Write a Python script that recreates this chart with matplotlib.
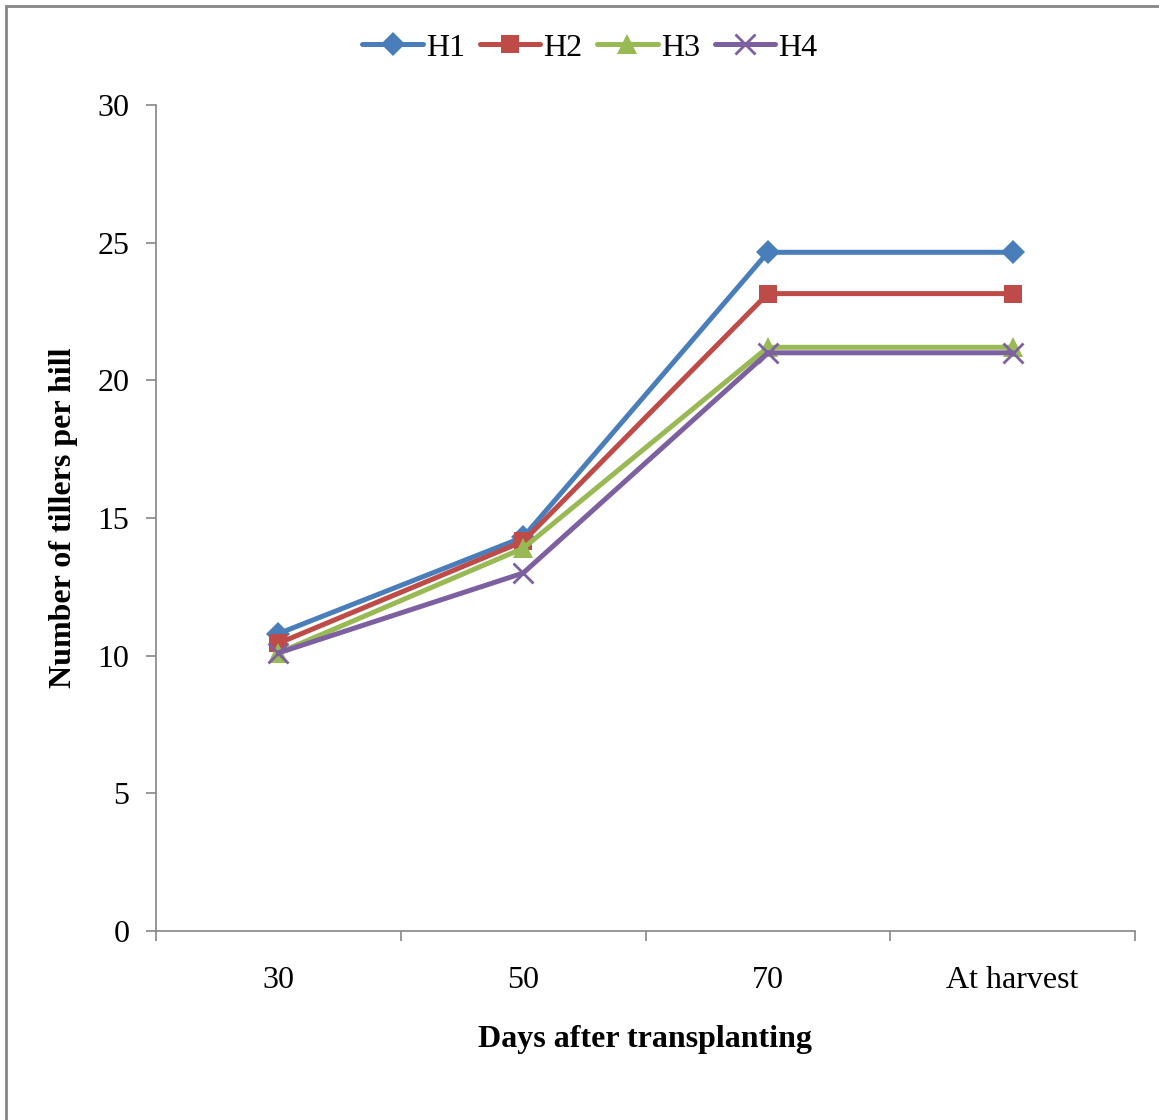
import matplotlib
matplotlib.use("Agg")
import numpy as np
import matplotlib.pyplot as plt
import matplotlib.patches as mpatches

# data
categories = ["30", "50", "70", "At harvest"]
h1 = [10.8, 14.3, 24.65, 24.65]
h2 = [10.45, 14.15, 23.15, 23.15]
h3 = [10.1, 13.9, 21.2, 21.2]
h4 = [10.1, 13.0, 21.0, 21.0]
y_ticks = [0, 5, 10, 15, 20, 25, 30]

SERIES = [
    ("H1", h1, "#4A7EBB", "D", 12),
    ("H2", h2, "#BE4B48", "s", 13),
    ("H3", h3, "#98B954", "^", 14),
    ("H4", h4, "#7D60A0", "x", 14),
]
AXIS_GRAY = "#868686"

plt.rcParams["font.family"] = ["Liberation Serif", "DejaVu Serif"]

fig = plt.figure(figsize=(11.59, 11.2), dpi=100)
ax = fig.add_axes([156 / 1159, 1 - 931 / 1120, (1135 - 156) / 1159, (931 - 105) / 1120])

x = np.arange(len(categories))
handles = []
for name, vals, color, mk, ms in SERIES:
    kw = dict(markeredgewidth=2) if mk == "x" else dict(markeredgewidth=0)
    (ln,) = ax.plot(x, vals, color=color, linewidth=3.6, marker=mk,
                    markersize=ms, markerfacecolor=color, markeredgecolor=color,
                    label=name, solid_capstyle="round", **kw)
    handles.append(ln)

ax.set_xlim(-0.5, len(categories) - 0.5)
ax.set_ylim(0, 30)
ax.set_yticks(y_ticks)
ax.set_yticklabels([str(t) for t in y_ticks], fontsize=23)

# category boundaries get tick marks, labels sit between them
ax.set_xticks(np.arange(-0.5, len(categories)), minor=False)
ax.set_xticklabels([])
ax.set_xticks(x, minor=True)
ax.set_xticklabels(categories, minor=True, fontsize=23)
ax.tick_params(axis="x", which="major", direction="out", length=7, width=1.2, color=AXIS_GRAY)
ax.tick_params(axis="x", which="minor", length=0, pad=25)
ax.tick_params(axis="y", direction="out", length=7, width=1.2, color=AXIS_GRAY, pad=12)

for s in ("top", "right"):
    ax.spines[s].set_visible(False)
for s in ("left", "bottom"):
    ax.spines[s].set_color(AXIS_GRAY)
    ax.spines[s].set_linewidth(1.2)

ax.set_xlabel("Days after transplanting", fontsize=23, fontweight="bold", labelpad=22)
ax.set_ylabel("Number of tillers per hill", fontsize=23, fontweight="bold", labelpad=14)

fig.legend(handles=handles, loc="center", bbox_to_anchor=(590 / 1159, 1 - 48 / 1120),
           ncol=4, frameon=False, fontsize=23, handlelength=1.9,
           handletextpad=0.1, columnspacing=0.45, borderaxespad=0)

# outer chart border
fig.patches.append(mpatches.Rectangle((6 / 1159, -0.1), 1.2, 1 - 6 / 1120 + 0.1,
                                      transform=fig.transFigure, fill=False,
                                      edgecolor=AXIS_GRAY, linewidth=2))

fig.savefig("out.png", dpi=100)
